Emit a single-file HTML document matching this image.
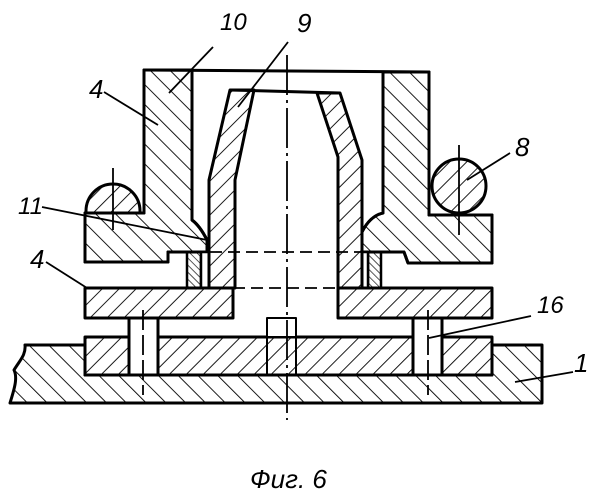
<!DOCTYPE html>
<html><head><meta charset="utf-8"><style>
html,body{margin:0;padding:0;background:#fff;}
svg{display:block}
text{font-family:"Liberation Sans",sans-serif;font-style:italic;fill:#000}
</style></head><body>
<svg width="601" height="500" viewBox="0 0 601 500" xmlns="http://www.w3.org/2000/svg">
<defs>
<pattern id="hb" patternUnits="userSpaceOnUse" width="14" height="14" patternTransform="rotate(-45)">
<line x1="0" y1="0" x2="0" y2="14" stroke="#000" stroke-width="1.8"/></pattern>
<pattern id="hf" patternUnits="userSpaceOnUse" width="12" height="12" patternTransform="rotate(45)">
<line x1="0" y1="0" x2="0" y2="12" stroke="#000" stroke-width="1.8"/></pattern>
<pattern id="hs" patternUnits="userSpaceOnUse" width="5" height="5" patternTransform="rotate(-45)">
<line x1="0" y1="0" x2="0" y2="5" stroke="#000" stroke-width="1.3"/></pattern>
<clipPath id="ct"><rect x="0" y="0" width="601" height="213"/></clipPath>
</defs>
<g stroke="#000" stroke-width="3" stroke-linejoin="round">
<!-- base 1 -->
<path d="M25,345 L85,345 L85,375 L492,375 L492,345 L542,345 L542,403 L10,403 C14,390 18,378 14,370 C20,360 26,355 25,345 Z" fill="url(#hb)"/>
<!-- middle plate -->
<rect x="85" y="337" width="407" height="38" fill="url(#hf)"/>
<rect x="129" y="318" width="29" height="57" fill="#fff"/>
<rect x="413" y="318" width="29" height="57" fill="#fff"/>
<rect x="267" y="318" width="29" height="19" fill="#fff" stroke-width="2"/>
<line x1="267" y1="337" x2="267" y2="375" stroke-width="2"/>
<line x1="296" y1="337" x2="296" y2="375" stroke-width="2"/>
<!-- balls -->
<circle cx="113" cy="211" r="27" fill="url(#hf)" clip-path="url(#ct)"/>
<circle cx="459" cy="186" r="27" fill="url(#hf)"/>
<!-- upper body 4 -->
<path d="M144,70 L192,70 L192,220 Q200,226 207,240 L207,252 L168,252 L168,262 L85,262 L85,213 L144,213 Z" fill="#fff"/>
<path d="M144,70 L192,70 L192,220 Q200,226 207,240 L207,252 L168,252 L168,262 L85,262 L85,213 L144,213 Z" fill="url(#hb)"/>
<path d="M383,72 L429,72 L429,215 L492,215 L492,263 L408,263 L404,252 L362,252 L362,232 Q370,216 383,213 Z" fill="#fff"/>
<path d="M383,72 L429,72 L429,215 L492,215 L492,263 L408,263 L404,252 L362,252 L362,232 Q370,216 383,213 Z" fill="url(#hb)"/>
<line x1="144" y1="70" x2="429" y2="72"/>
<!-- rings -->
<rect x="187" y="252" width="14" height="36" fill="url(#hs)" stroke-width="2.5"/>
<rect x="201" y="252" width="8" height="36" fill="#fff" stroke-width="2.5"/>
<rect x="368" y="252" width="13" height="36" fill="url(#hs)" stroke-width="2.5"/>
<rect x="362" y="252" width="6" height="36" fill="#fff" stroke-width="2.5"/>
<!-- sleeve 9 -->
<path d="M230,90 L254,90 L235,180 L235,288 L209,288 L209,180 Z" fill="url(#hf)"/>
<path d="M317,93 L340,93 L362,160 L362,288 L338,288 L338,157 Z" fill="url(#hf)"/>
<line x1="230" y1="90" x2="340" y2="93"/>
<!-- lower plate 4 -->
<rect x="85" y="288" width="148" height="30" fill="url(#hf)"/>
<rect x="338" y="288" width="154" height="30" fill="url(#hf)"/>
</g>
<g stroke="#000" stroke-width="1.8" fill="none">
<line x1="210" y1="252" x2="362" y2="252" stroke-dasharray="12,6"/>
<line x1="233" y1="288" x2="338" y2="288" stroke-dasharray="12,6"/>
<line x1="287" y1="55" x2="287" y2="420" stroke-dasharray="40,5,3,5"/>
<line x1="113" y1="168" x2="113" y2="230"/>
<line x1="459" y1="145" x2="459" y2="235"/>
<line x1="143" y1="310" x2="143" y2="395" stroke-dasharray="20,5"/>
<line x1="428" y1="310" x2="428" y2="395" stroke-dasharray="20,5"/>
<line x1="213" y1="47" x2="169" y2="93"/>
<line x1="288" y1="42" x2="238" y2="107"/>
<line x1="104" y1="92" x2="158" y2="125"/>
<line x1="510" y1="153" x2="467" y2="180"/>
<line x1="42" y1="207" x2="207" y2="240"/>
<line x1="46" y1="262" x2="87" y2="288"/>
<line x1="531" y1="316" x2="429" y2="338"/>
<line x1="573" y1="372" x2="515" y2="382"/>
</g>
<text x="220" y="30" font-size="24">10</text>
<text x="297" y="32" font-size="26">9</text>
<text x="89" y="98" font-size="26">4</text>
<text x="515" y="156" font-size="26">8</text>
<text x="18" y="214" font-size="24">11</text>
<text x="30" y="268" font-size="26">4</text>
<text x="537" y="313" font-size="24">16</text>
<text x="574" y="372" font-size="26">1</text>
<text x="250" y="488" font-size="26">Фиг. 6</text>
</svg>
</body></html>
